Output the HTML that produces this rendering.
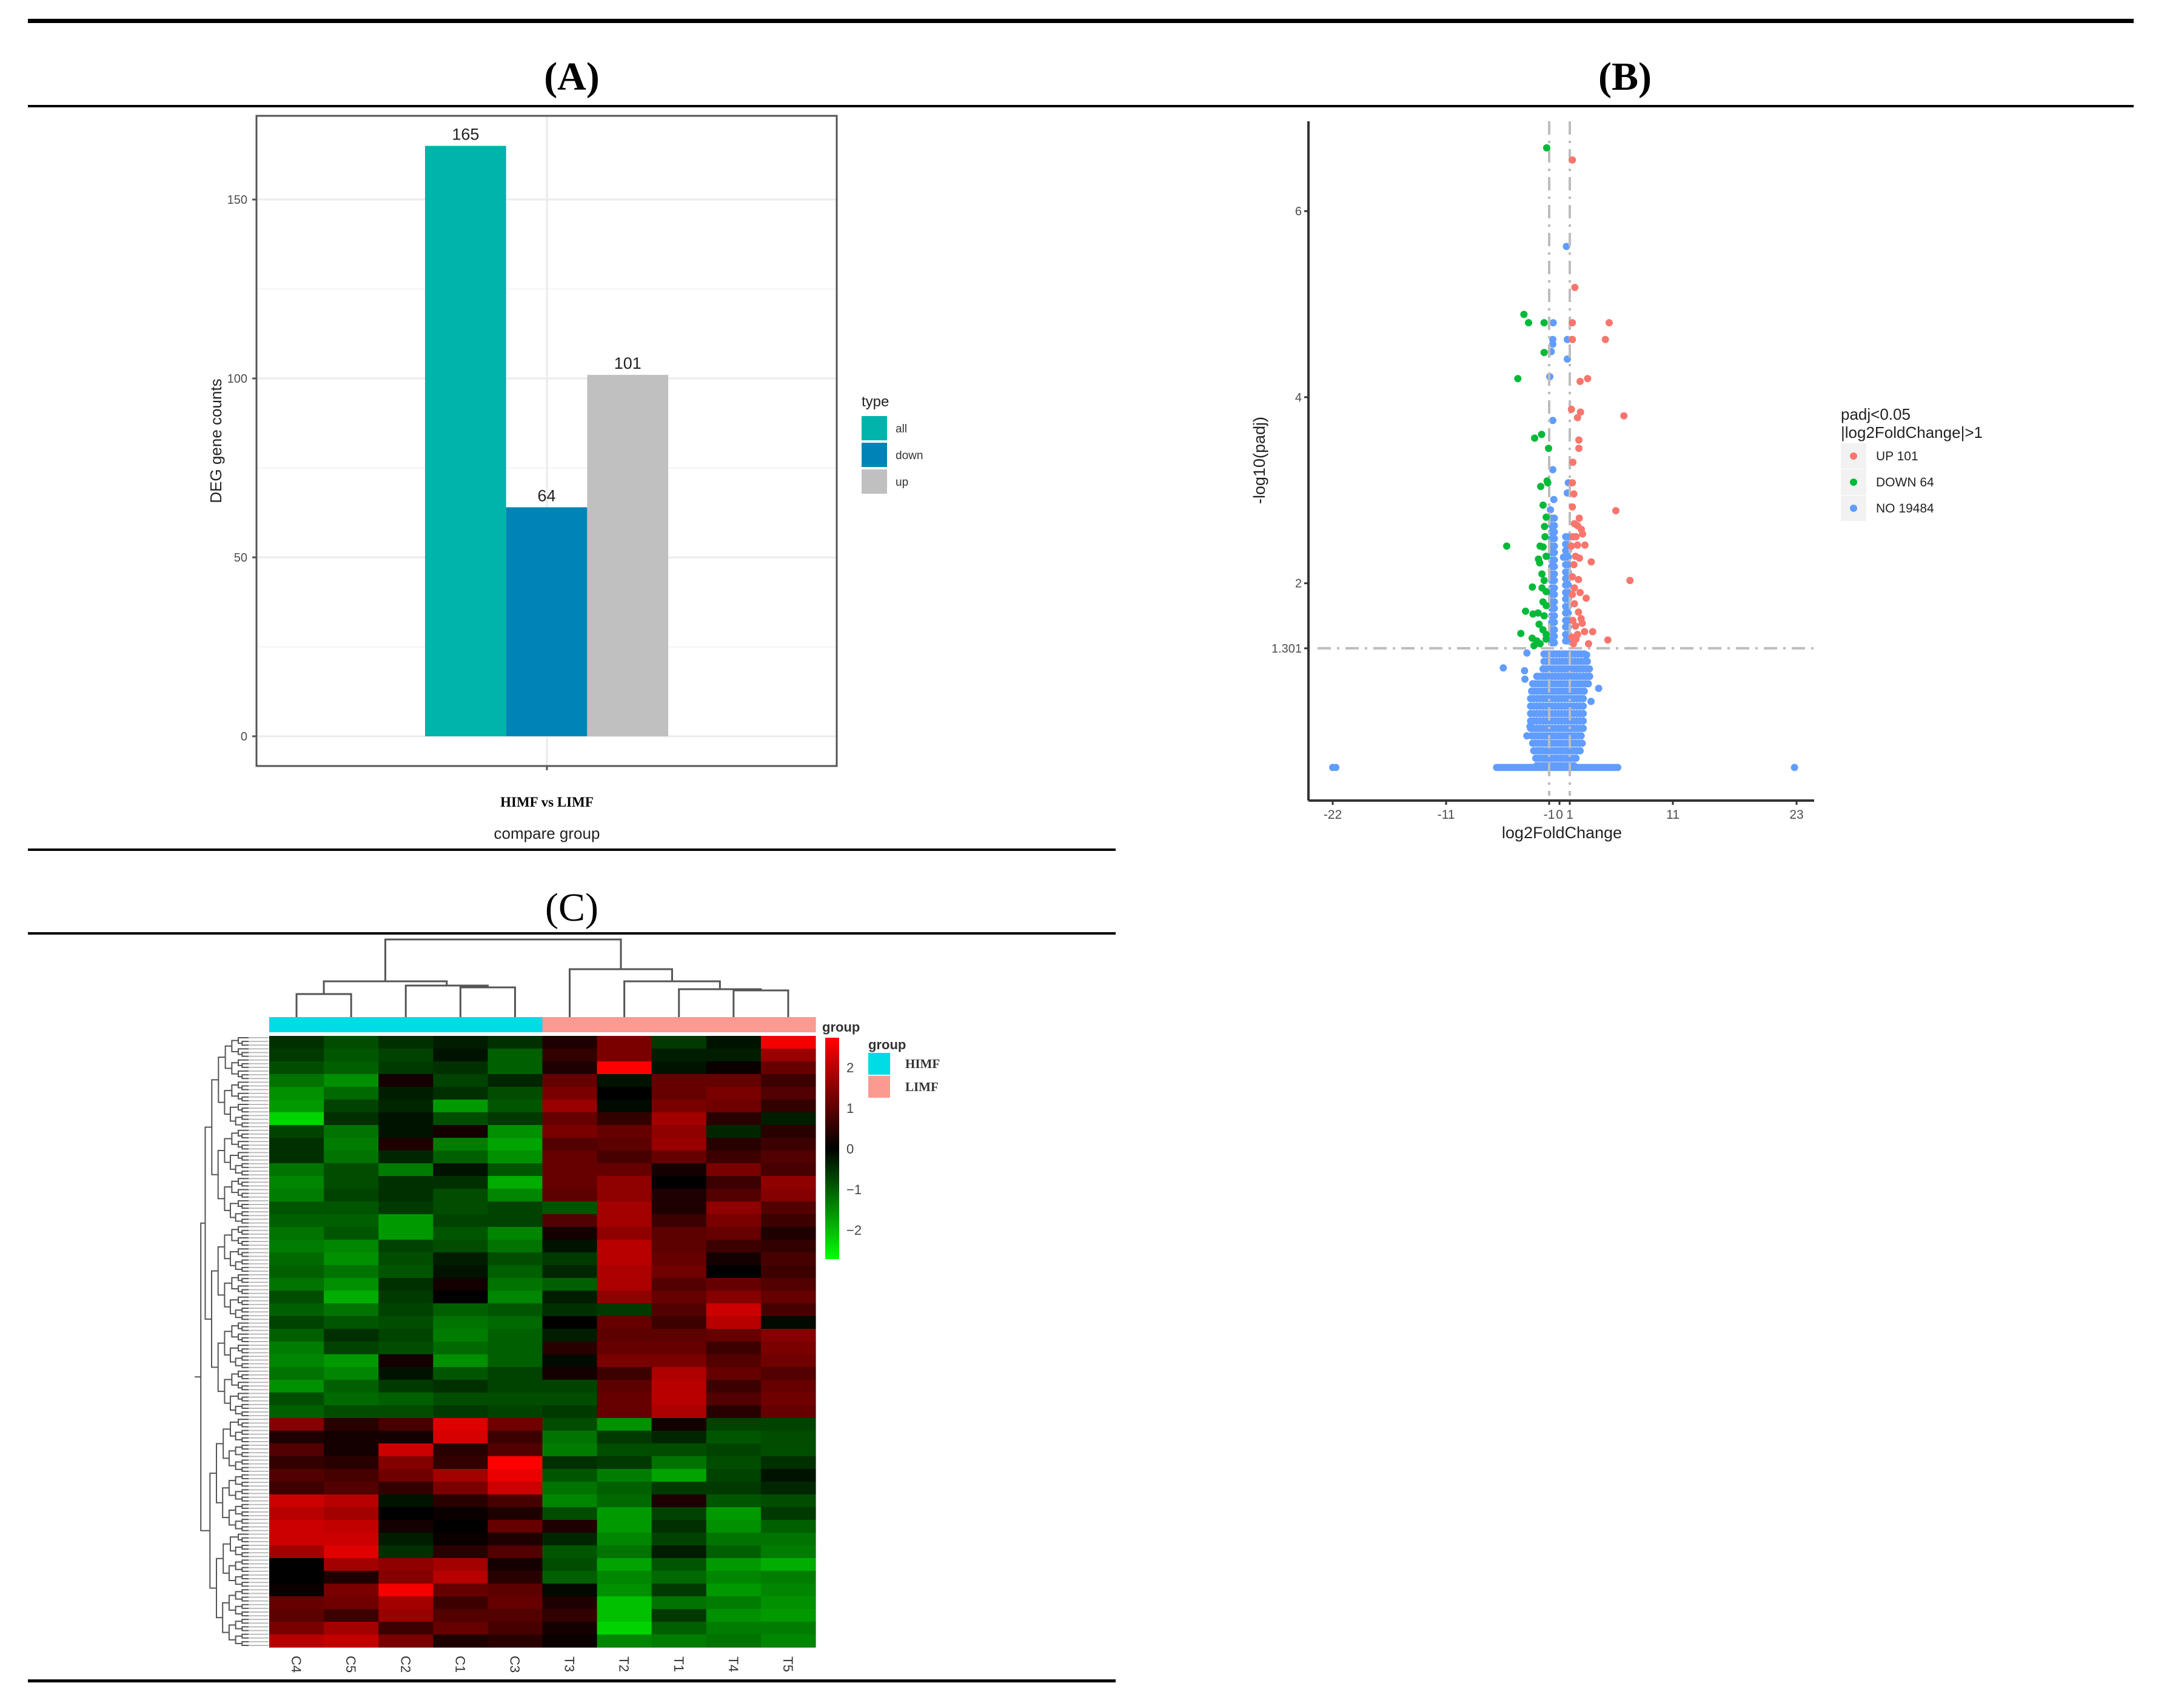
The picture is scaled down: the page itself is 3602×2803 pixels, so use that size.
<!DOCTYPE html>
<html><head><meta charset="utf-8"><style>
html,body{margin:0;padding:0;background:#fff;}
svg{display:block;}
.sans{font-family:"Liberation Sans",sans-serif;}
.serif{font-family:"Liberation Serif",serif;}
</style></head><body>
<svg id="fig" width="3602" height="2803" viewBox="0 0 3602 2803" xmlns="http://www.w3.org/2000/svg">
<rect width="3602" height="2803" fill="#fff"/>
<g>
<rect x="46" y="31" width="3473" height="7" fill="#000"/>
<rect x="46" y="173" width="3473" height="4" fill="#000"/>
<rect x="46" y="1399" width="1794" height="4" fill="#000"/>
<rect x="46" y="1537" width="1794" height="4" fill="#000"/>
<rect x="46" y="2769" width="1794" height="5" fill="#000"/>
</g>
<text x="943" y="148" class="serif" font-size="66" font-weight="bold" text-anchor="middle">(A)</text>
<text x="2680" y="148" class="serif" font-size="66" font-weight="bold" text-anchor="middle">(B)</text>
<text x="943" y="1518" class="serif" font-size="66" text-anchor="middle">(C)</text>
<g id="barChart"></g>
<g id="volcano"></g>
<g id="heatmap"></g>
</svg>
<script>
// ---------- Panel A data ----------
const barCategories = ["all","down","up"];
const barValues = [165,64,101];
const barTicks = [0,50,100,150];
// ---------- Panel B data ----------
const upPoints = [[1.25,6.55],[1.49,5.18],[1.25,4.80],[4.82,4.80],[4.45,4.62],[1.25,4.62],[2.0,4.17],[2.73,4.20],[6.25,3.80],[1.16,3.87],[2.04,3.84],[1.75,3.78],[1.88,3.54],[1.88,3.45],[1.25,3.08],[1.39,2.96],[5.47,2.78],[1.25,2.82],[1.92,2.70],[1.45,2.64],[2.12,2.58],[2.24,2.53],[1.75,2.62],[2.47,2.41],[1.75,2.41],[1.16,2.40],[1.55,2.29],[1.94,2.27],[3.08,2.23],[6.84,2.03],[1.25,2.07],[1.84,2.04],[1.45,1.95],[2.59,1.84],[1.25,1.88],[1.45,1.78],[1.84,1.69],[2.2,1.57],[1.55,1.54],[2.43,1.48],[3.22,1.48],[1.75,1.45],[4.69,1.39],[2.82,1.35],[1.35,1.35],[1.4,2.2],[1.3,1.6],[2.0,1.9],[1.6,2.5],[1.3,3.3],[1.2,1.42],[1.6,1.4],[2.1,1.62],[1.3,2.5]];
const downPoints = [[-1.24,6.68],[-3.45,4.89],[-3.0,4.80],[-1.49,4.80],[-1.49,4.48],[-4.04,4.20],[-2.41,3.56],[-1.73,3.60],[-1.06,3.45],[-1.14,3.08],[-1.82,3.04],[-1.59,2.84],[-1.29,2.71],[-1.45,2.61],[-5.12,2.40],[-1.88,2.40],[-1.59,2.39],[-2.04,2.26],[-1.92,2.22],[-1.29,2.29],[-1.49,2.03],[-2.63,1.96],[-1.69,1.95],[-1.29,1.91],[-1.29,1.76],[-3.29,1.70],[-2.57,1.67],[-2.08,1.68],[-1.98,1.56],[-1.49,1.65],[-3.75,1.46],[-2.65,1.41],[-2.47,1.33],[-1.88,1.35],[-1.29,1.45],[-1.6,1.5],[-1.3,1.4],[-2.2,1.38],[-1.7,2.1],[-1.4,2.5],[-1.2,3.1],[-1.6,1.8]];
const noPoints = [[-0.61,4.80],[-0.65,4.62],[-0.65,4.57],[-0.8,4.49],[-0.94,4.22],[0.67,5.62],[0.76,4.62],[0.76,4.41],[-0.65,3.75],[-0.65,3.22],[0.86,3.08],[0.76,2.97],[-0.55,2.90],[-0.88,2.79],[0.39,2.28],[-3.16,1.25],[-5.45,1.09],[-3.39,1.06],[-3.35,0.97],[3.8,0.87],[3.06,0.73],[-2.86,0.46],[-3.16,0.36],[2.92,1.0],[2.63,1.23],[-22,0.02],[-21.7,0.02],[22.8,0.02]];
const noLeftColY = [2.7,2.62,2.55,2.48,2.4,2.33,2.25,2.18,2.1,2.03,1.95,1.88,1.8,1.73,1.65,1.58,1.5,1.43,1.36];
const noRightColY = [2.5,2.42,2.35,2.28,2.2,2.12,2.05,1.98,1.9,1.83,1.75,1.68,1.6,1.53,1.45,1.38];
const cloudY = [0.04,0.12,0.2,0.28,0.36,0.44,0.52,0.6,0.68,0.76,0.84,0.92,1.0,1.08,1.16,1.24];
const cloudLeft = [-2.2,-2.3,-2.5,-2.6,-2.7,-2.8,-2.8,-2.8,-2.8,-2.8,-2.7,-2.6,-2.2,-1.6,-1.5,-1.5];
const cloudRight = [1.4,1.6,2.1,2.2,2.3,2.3,2.4,2.4,2.4,2.4,2.5,2.9,2.9,2.9,2.7,2.6];
const baselineBand = [-6.1,5.8];
const volXTicks = [-22,-11,-1,0,1,11,23];
const volYTicks = [1.301,2,4,6];
// ---------- Panel C data ----------
const hmColumns = ["C4","C5","C2","C1","C3","T3","T2","T1","T4","T5"];
const hmRows = [
[-0.5,-0.8,-0.5,-0.3,-0.5,0.3,1.2,-0.6,-0.2,2.4],
[-0.6,-0.9,-0.7,-0.2,-1,0.5,1.2,-0.3,-0.3,1.5],
[-0.8,-1,-0.6,-0.5,-1,0.3,2.5,-0.2,0.1,1],
[-1.2,-1.5,0.2,-0.7,-0.4,1,-0.2,1,1,0.6],
[-1.5,-1.1,-0.3,-0.5,-0.8,1.2,0,1,1.2,0.8],
[-1.6,-0.7,-0.4,-1.6,-0.9,1.5,-0.1,1.2,1.1,0.5],
[-2.2,-0.5,-0.2,-0.8,-0.6,1,0.5,1.6,0.4,-0.3],
[-0.7,-1.2,-0.2,0.2,-1.5,1.2,1,1.4,-0.4,0.4],
[-0.5,-1.3,0.3,-1.3,-1.7,0.8,0.9,1.5,0.4,0.6],
[-0.5,-1.2,-0.4,-1,-1.5,1,0.7,1,0.6,0.8],
[-1.2,-0.8,-1.3,-0.2,-0.9,1,1,0.2,1.2,0.7],
[-1.4,-0.8,-0.5,-0.5,-1.8,1,1.4,0,0.6,1.4],
[-1.3,-0.7,-0.5,-0.8,-1.4,0.9,1.4,0.3,0.8,1.3],
[-0.9,-0.9,-0.6,-0.8,-0.7,-0.9,1.6,0.3,1.4,0.8],
[-1,-1,-1.6,-0.7,-0.7,0.8,1.6,0.6,1.2,0.6],
[-1.2,-0.9,-1.6,-0.9,-1.4,0.2,1.4,0.9,1,0.3],
[-1.3,-1.4,-0.7,-0.8,-1.2,-0.2,1.8,0.9,0.6,0.5],
[-1.1,-1.5,-0.8,-0.3,-0.8,-0.6,1.8,1,0.2,0.7],
[-1,-1.2,-0.9,-0.2,-1,-0.4,1.7,1.1,0,0.6],
[-1.2,-1.5,-0.5,0.2,-1.2,-1,1.7,0.8,1,0.8],
[-0.8,-1.8,-0.6,0,-1.4,-0.3,1.4,1,1.3,1],
[-1,-1.2,-0.7,-1,-0.9,-0.5,-0.6,0.8,2,0.7],
[-0.7,-0.9,-0.8,-1.2,-1.1,0,1,0.6,1.8,-0.1],
[-1,-0.5,-0.7,-1.3,-1,-0.3,0.9,0.9,1,1.3],
[-1.3,-0.7,-0.8,-1.1,-1,0.4,1,1,0.6,1.2],
[-1.4,-1.6,0.2,-1.5,-1,-0.1,1.2,1.2,0.8,1.1],
[-1.2,-1.4,-0.2,-0.9,-0.7,0.2,0.6,1.7,1,0.8],
[-1.5,-1,-0.6,-0.5,-0.7,-0.7,0.9,1.8,0.6,1],
[-0.8,-1.1,-1,-0.8,-0.8,-0.8,1,1.8,0.8,1.1],
[-1,-0.8,-0.8,-0.6,-0.7,-0.6,1,1.7,0.4,1],
[1.3,0.4,0.7,2.2,1.1,-0.8,-1.5,0.2,-0.7,-0.7],
[0.3,0.2,0.2,2.1,0.6,-1.2,-0.6,-0.4,-0.9,-0.8],
[0.8,0.2,2,0.4,0.8,-1.3,-0.8,-0.8,-0.7,-0.8],
[0.5,0.4,1.3,0.5,2.5,-0.5,-0.6,-1.2,-0.8,-0.5],
[0.8,0.7,1.1,1.6,2.3,-0.9,-1.3,-1.7,-0.7,-0.2],
[0.6,0.8,0.5,1.2,2,-1.2,-1,-0.6,-0.6,-0.4],
[2,1.8,-0.2,0.4,0.7,-1.4,-1.1,0.3,-0.9,-0.8],
[1.8,1.6,0,0.1,0.3,-0.8,-1.6,-0.7,-1.6,-0.6],
[2,1.9,0.2,0,1,0.3,-1.6,-0.5,-1.5,-1],
[2,2,-0.3,0.1,0.3,-0.4,-1.4,-0.7,-1.2,-1.2],
[1.6,2.2,-0.5,0.4,0.8,-0.9,-1.2,-0.3,-1,-1.3],
[0,1.6,1.4,1.6,0.2,-0.8,-1.7,-0.9,-1.6,-1.8],
[0,0.3,1.3,1.8,0.4,-1,-1.4,-1.1,-1.4,-1.3],
[0.1,1.2,2.4,1,0.9,-0.1,-1.5,-0.6,-1.6,-1.4],
[1,1.1,1.6,0.6,1,0.3,-2,-1.2,-1.3,-1.5],
[0.9,0.6,1.5,0.8,0.8,0.5,-2,-0.6,-1.5,-1.6],
[1.2,1.6,0.6,1,0.7,0.2,-2.2,-1,-1.3,-1.3],
[1.8,1.9,1.2,0.3,0.4,0.1,-1.4,-1.3,-1.2,-1.4]];
const colorTicks = [2,1,0,-1,-2];

const NS = "http://www.w3.org/2000/svg";
function mk(parent, tag, attrs, text){
  const el = document.createElementNS(NS, tag);
  for (const k in attrs) el.setAttribute(k, attrs[k]);
  if (text !== undefined) el.textContent = text;
  parent.appendChild(el);
  return el;
}

// ================= Panel A =================
(function(){
  const g = document.getElementById('barChart');
  const L=423,R=1380,T=191,B=1263;
  const y0=1214, k=5.9;
  const ys = v => y0 - v*k;
  const barLeft=701, barW=133.7;
  const colors = {"all":"#00b3ab","down":"#0084b8","up":"#c0c0c0"};
  // minor grid
  [25,75,125].forEach(v=>{
    const l = mk(g,'line',{x1:L,x2:R,y1:ys(v),y2:ys(v),stroke:'#f3f3f3','stroke-width':2});
    
    
  });
  barTicks.forEach(v=>{
    const l = mk(g,'line',{x1:L,x2:R,y1:ys(v),y2:ys(v),stroke:'#ebebeb','stroke-width':3});
    
    
    const t = mk(g,'text',{x:408,y:ys(v)+7,'font-size':20,fill:'#4d4d4d','text-anchor':'end',class:'sans'},String(v));
    
    
    mk(g,'line',{x1:416,x2:423,y1:ys(v),y2:ys(v),stroke:'#555','stroke-width':3});
  });
  mk(g,'line',{x1:902,x2:902,y1:T,y2:B,stroke:'#ebebeb','stroke-width':3});
  barCategories.forEach((c,i)=>{
    const x = barLeft + i*barW, v = barValues[i];
    const r = mk(g,'rect',{x:x,y:ys(v),width:barW,height:v*k,fill:colors[c]});
    
    
    const t = mk(g,'text',{x:x+barW/2,y:ys(v)-10,'font-size':27,fill:'#222','text-anchor':'middle',class:'sans'},String(v));
    
    
  });
  const box = mk(g,'rect',{x:L,y:T,width:R-L,height:B-T,fill:'none',stroke:'#555','stroke-width':3});
  
  
  mk(g,'line',{x1:902,x2:902,y1:B,y2:B+7,stroke:'#555','stroke-width':3});
  const xl = mk(g,'text',{x:902,y:1330,'font-size':23,'font-weight':'bold','text-anchor':'middle',class:'serif'},'HIMF vs LIMF');
  
  
  const xt = mk(g,'text',{x:902,y:1383,'font-size':26,fill:'#222','text-anchor':'middle',class:'sans'},'compare group');
  
  
  const yt = mk(g,'text',{x:0,y:0,'font-size':26,fill:'#222','text-anchor':'middle',class:'sans',transform:'translate(365,727) rotate(-90)'},'DEG gene counts');
  
  
  const lt = mk(g,'text',{x:1421,y:670,'font-size':24,fill:'#222',class:'sans'},'type');
  
  
  barCategories.forEach((c,i)=>{
    const y = 686 + i*44;
    const r = mk(g,'rect',{x:1421,y:y,width:42,height:40,fill:colors[c]});
    
    
    const t = mk(g,'text',{x:1477,y:y+27,'font-size':19,fill:'#333',class:'sans'},c);
    
    
  });
})();

// ================= Panel B =================
(function(){
  const g = document.getElementById('volcano');
  const X0=2572, KX=17, Y0=1268.5, KY=153.4;
  const xs = v => X0 + v*KX, ys = v => Y0 - v*KY;
  const AXL=2158, AXB=1320, AXT=200, AXR=2992;
  const cNo='#619cff', cUp='#f8766d', cDown='#00ba38';
  const r=6;
  function dot(x,y,col,name){
    const c = mk(g,'circle',{cx:xs(x),cy:ys(y),r:r,fill:col});
    
    
  }
  // baseline band
  for (let x=baselineBand[0]; x<=baselineBand[1]+1e-6; x+=0.25) dot(x,0.02,cNo,'point-no');
  cloudY.forEach((y,i)=>{
    for (let x=cloudLeft[i]; x<=cloudRight[i]+1e-6; x+=0.3) dot(x,y,cNo,'point-no');
  });
  noLeftColY.forEach(y=>{ dot(-0.75,y,cNo,'point-no'); dot(-0.5,y,cNo,'point-no'); });
  noRightColY.forEach(y=>{ dot(0.6,y,cNo,'point-no'); dot(0.85,y,cNo,'point-no'); });
  noPoints.forEach(p=>dot(p[0],p[1],cNo,'point-no'));
  // threshold lines
  [-1,1].forEach(v=>{
    const l = mk(g,'line',{x1:xs(v),x2:xs(v),y1:AXT,y2:AXB-8,stroke:'#bdbdbd','stroke-width':4,'stroke-dasharray':'22,10,4,10'});
    
    
  });
  const h = mk(g,'line',{x1:AXL+15,x2:AXR,y1:ys(1.301),y2:ys(1.301),stroke:'#bdbdbd','stroke-width':4,'stroke-dasharray':'22,10,4,10'});
  
  
  downPoints.forEach(p=>dot(p[0],p[1],cDown,'point-down'));
  upPoints.forEach(p=>dot(p[0],p[1],cUp,'point-up'));
  // axes
  mk(g,'line',{x1:AXL,x2:AXL,y1:AXT,y2:AXB,stroke:'#333','stroke-width':4});
  mk(g,'line',{x1:AXL,x2:AXR,y1:AXB,y2:AXB,stroke:'#333','stroke-width':4});
  volXTicks.forEach(v=>{
    mk(g,'line',{x1:xs(v),x2:xs(v),y1:AXB,y2:AXB+7,stroke:'#333','stroke-width':3});
    const t = mk(g,'text',{x:xs(v),y:AXB+30,'font-size':21,fill:'#4d4d4d','text-anchor':'middle',class:'sans'},String(v));
    
    
  });
  volYTicks.forEach(v=>{
    mk(g,'line',{x1:AXL-7,x2:AXL,y1:ys(v),y2:ys(v),stroke:'#333','stroke-width':3});
    const t = mk(g,'text',{x:AXL-11,y:ys(v)+7,'font-size':20,fill:'#4d4d4d','text-anchor':'end',class:'sans'},String(v));
    
    
  });
  const xt = mk(g,'text',{x:2576,y:1382,'font-size':27,fill:'#222','text-anchor':'middle',class:'sans'},'log2FoldChange');
  
  
  const yt = mk(g,'text',{x:0,y:0,'font-size':27,fill:'#222','text-anchor':'middle',class:'sans',transform:'translate(2086,759) rotate(-90)'},'-log10(padj)');
  
  
  const l1 = mk(g,'text',{x:3036,y:692,'font-size':26,fill:'#222',class:'sans'},'padj<0.05');
  
  
  const l2 = mk(g,'text',{x:3036,y:722,'font-size':26,fill:'#222',class:'sans'},'|log2FoldChange|>1');
  
  
  [['UP 101',cUp],['DOWN 64',cDown],['NO 19484',cNo]].forEach((e,i)=>{
    const cy = 752 + i*43;
    mk(g,'rect',{x:3036,y:cy-21,width:42,height:42,fill:'#f2f2f2'});
    const c = mk(g,'circle',{cx:3057,cy:cy,r:6,fill:e[1]});
    
    
    const t = mk(g,'text',{x:3094,y:cy+7,'font-size':21,fill:'#222',class:'sans'},e[0]);
    
    
  });
})();

// ================= Panel C =================
(function(){
  const g = document.getElementById('heatmap');
  const L=444, R=1345, T=1708, B=2716;
  const cw=(R-L)/hmColumns.length, rh=(B-T)/hmRows.length;
  const colX = i => L + i*cw;
  const rowY = j => T + j*rh;
  function col(v){
    v=Math.max(-2.5,Math.min(2.5,v));
    return v>=0 ? 'rgb('+Math.round(255*v/2.5)+',0,0)' : 'rgb(0,'+Math.round(240*(-v)/2.5)+',0)';
  }
  hmRows.forEach((row,j)=>{
    row.forEach((v,i)=>{
      const r = mk(g,'rect',{x:colX(i),y:rowY(j),width:cw+0.6,height:rh+0.6,fill:col(v)});
      
      
    });
  });
  // group bar
  hmColumns.forEach((c,i)=>{
    const r = mk(g,'rect',{x:colX(i),y:1677,width:cw+0.6,height:25,fill:c[0]==='C'?'#00dce6':'#fa9a90'});
    
    
    const t = mk(g,'text',{x:0,y:0,'font-size':22,fill:'#333',class:'sans','text-anchor':'middle',transform:'translate('+(colX(i)+cw/2-8)+',2744) rotate(90)'},c);
    
    
  });
  // top dendrogram
  const cx = i => colX(i)+cw/2;
  const leafB = 1677;
  const dg = mk(g,'g',{stroke:'#555','stroke-width':3,fill:'none'});
  
  
  function link(x1,y1,x2,y2,h){ mk(dg,'path',{d:'M'+x1+','+y1+'V'+h+'H'+x2+'V'+y2}); }
  link(cx(0),leafB,cx(1),leafB,1639);
  link(cx(3),leafB,cx(4),leafB,1628);
  const c134=(cx(3)+cx(4))/2;
  link(cx(2),leafB,c134,1628,1625);
  const a=(cx(0)+cx(1))/2, b=(cx(2)+c134)/2;
  link(a,1639,b,1625,1618);
  link(cx(8),leafB,cx(9),leafB,1633);
  const t45=(cx(8)+cx(9))/2;
  link(cx(7),leafB,t45,1633,1631);
  const t1=(cx(7)+t45)/2;
  link(cx(6),leafB,t1,1631,1618);
  const t2=(cx(6)+t1)/2;
  link(cx(5),leafB,t2,1618,1598);
  const t3=(cx(5)+t2)/2;
  link((a+b)/2,1618,t3,1598,1549);
  // left dendrogram
  const nLeaves=165, lh=(B-T)/nLeaves;
  const lg = mk(g,'g',{stroke:'#555','stroke-width':2,fill:'none'});
  
  
  for(let i=0;i<nLeaves;i++){
    mk(lg,'line',{x1:410,x2:443,y1:T+(i+0.5)*lh,y2:T+(i+0.5)*lh,stroke:'#bbb'});
  }
  function tree(s,e){
    if(e-s===1) return {y:T+(s+0.5)*lh,x:410};
    const m = (s===0&&e===nLeaves)?103:Math.floor((s+e)/2);
    const A=tree(s,m), Bn=tree(m,e);
    const x = 410 - 10.7*Math.log2(e-s);
    mk(lg,'path',{d:'M'+A.x+','+A.y+'H'+x+'V'+Bn.y+'H'+Bn.x});
    return {y:(A.y+Bn.y)/2,x:x};
  }
  const root=tree(0,nLeaves);
  mk(lg,'line',{x1:root.x-10,x2:root.x,y1:root.y,y2:root.y});
  // colour bar
  const defs = mk(g,'defs',{});
  const gr = mk(defs,'linearGradient',{id:'cb',x1:0,y1:0,x2:0,y2:1});
  mk(gr,'stop',{offset:'0','stop-color':'#ff0000'});
  mk(gr,'stop',{offset:'0.5','stop-color':'#000000'});
  mk(gr,'stop',{offset:'1','stop-color':'#00ff00'});
  const cb = mk(g,'rect',{x:1361,y:1711,width:23,height:365,fill:'url(#cb)'});
  
  
  const cbY = v => 1894 - v*67;
  colorTicks.forEach(v=>{
    const t = mk(g,'text',{x:1396,y:cbY(v)+8,'font-size':22,fill:'#444',class:'sans'},v<0?'\u2212'+Math.abs(v):String(v));
    
    
  });
  const gl = mk(g,'text',{x:1356,y:1701,'font-size':22,'font-weight':'bold',fill:'#333',class:'sans'},'group');
  
  
  const lg2 = mk(g,'text',{x:1432,y:1730,'font-size':22,'font-weight':'bold',fill:'#333',class:'sans'},'group');
  
  
  [['HIMF','#00dce6',1736],['LIMF','#fa9a90',1774]].forEach(e=>{
    const r = mk(g,'rect',{x:1432,y:e[2],width:36,height:36,fill:e[1]});
    
    
    const t = mk(g,'text',{x:1493,y:e[2]+25,'font-size':21,'font-weight':'bold',fill:'#333',class:'serif'},e[0]);
    
    
  });
})();
</script>
</body></html>
